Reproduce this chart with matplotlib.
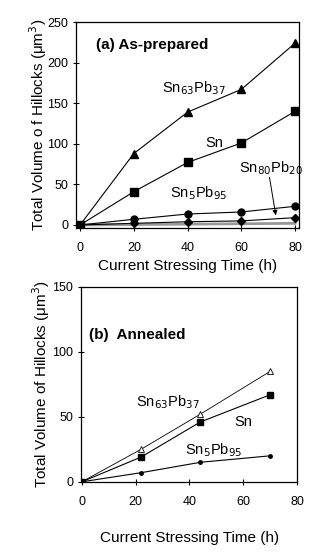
import matplotlib
matplotlib.use('Agg')
import matplotlib.pyplot as plt

# (a) as-prepared
t_a = [0, 20, 40, 60, 80]
sn6337_a = [0, 88, 139, 167, 224]
sn_a = [0, 41, 77, 101, 140]
sn8020_a = [0, 7, 13.5, 16, 23]
sn595_a = [0, 2, 4, 5, 9]
base_a = [0, 0.5, 1, 1.5, 2]

# (b) annealed
t_b = [0, 22, 44, 70]
sn6337_b = [0, 25, 52, 85]
sn_b = [0, 19, 46, 67]
sn595_b = [0, 7, 15, 20]

plt.rcParams['font.family'] = ['Liberation Sans', 'DejaVu Sans']

fig = plt.figure(figsize=(3.32, 5.57), dpi=100)
ax1 = fig.add_axes([0.229, 0.591, 0.672, 0.3695])
ax2 = fig.add_axes([0.244, 0.135, 0.651, 0.35])

# top panel
ax1.plot(t_a, base_a, color='0.6', lw=2)
ax1.plot(t_a, sn6337_a, 'k-^', lw=0.8, ms=6)
ax1.plot(t_a, sn_a, 'k-s', lw=0.8, ms=5.5)
ax1.plot(t_a, sn8020_a, 'k-o', lw=0.8, ms=5)
ax1.plot(t_a, sn595_a, 'k-D', lw=0.8, ms=4)
ax1.set_xlim(-1.5, 81.5)
ax1.set_ylim(-3.5, 250)
ax1.set_xticks([0, 20, 40, 60, 80])
ax1.set_yticks([0, 50, 100, 150, 200, 250])
ax1.text(6, 222, '(a) As-prepared', fontsize=11, fontweight='bold', va='center')
ax1.text(42.5, 169, r'Sn$_{63}$Pb$_{37}$', fontsize=10.5, ha='center', va='center')
ax1.text(50, 101, 'Sn', fontsize=10.5, ha='center', va='center')
ax1.text(71, 70, r'Sn$_{80}$Pb$_{20}$', fontsize=10.5, ha='center', va='center')
ax1.text(44, 39, r'Sn$_{5}$Pb$_{95}$', fontsize=10.5, ha='center', va='center')
ax1.annotate('', xy=(73, 8.5), xytext=(70.3, 62),
             arrowprops=dict(arrowstyle='-|>', color='k', lw=0.7, mutation_scale=7))
ax1.set_xlabel('Current Stressing Time (h)', fontsize=11, labelpad=3)
ax1.set_ylabel('Total Volume o f Hillocks (μm$^3$)', fontsize=11, labelpad=-1)

# bottom panel
ax2.plot(t_b, sn6337_b, 'k-^', lw=0.6, ms=4, mfc='white', mew=0.6)
ax2.plot(t_b, sn_b, 'k-s', lw=0.8, ms=5)
ax2.plot(t_b, sn595_b, 'k-o', lw=0.8, ms=2.5)
ax2.set_xlim(-0.3, 80)
ax2.set_ylim(0, 150)
ax2.set_xticks([0, 20, 40, 60, 80])
ax2.set_yticks([0, 50, 100, 150])
ax2.text(2.6, 113, '(b)  Annealed', fontsize=11, fontweight='bold', va='center')
ax2.text(32, 61, r'Sn$_{63}$Pb$_{37}$', fontsize=10.5, ha='center', va='center')
ax2.text(60, 46, 'Sn', fontsize=10.5, ha='center', va='center')
ax2.text(49, 24, r'Sn$_{5}$Pb$_{95}$', fontsize=10.5, ha='center', va='center')
ax2.set_xlabel('Current Stressing Time (h)', fontsize=11, labelpad=16)
ax2.set_ylabel('Total Volume of Hillocks (μm$^3$)', fontsize=11, labelpad=0)

for ax in (ax1, ax2):
    ax.tick_params(direction='inout', length=5, width=0.8, labelsize=9)
    ax.tick_params(axis='x', pad=8)
    ax.tick_params(axis='y', pad=3)
    for sp in ax.spines.values():
        sp.set_linewidth(0.9)

fig.savefig('out.png', dpi=100)
